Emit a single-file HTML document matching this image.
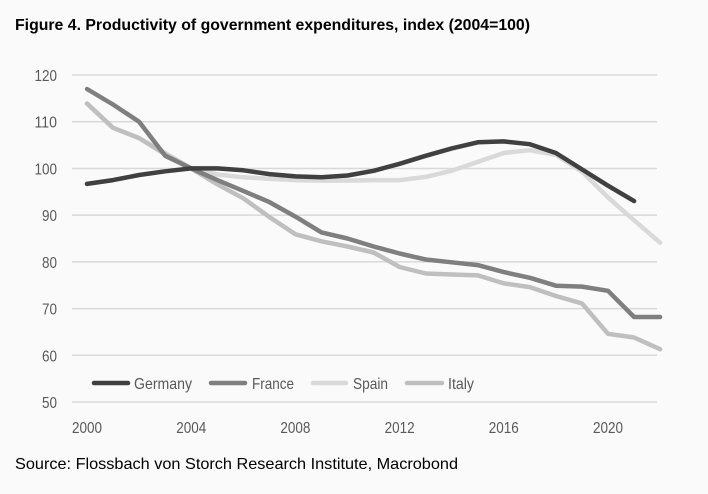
<!DOCTYPE html>
<html><head><meta charset="utf-8"><style>
body{margin:0;background:#fafafa;}
svg{display:block;font-family:"Liberation Sans",Calibri,sans-serif;}
</style></head><body>
<svg id="s" width="708" height="494" xmlns="http://www.w3.org/2000/svg">
<rect width="708" height="494" fill="#fafafa"/>
<text x="15" y="30" font-size="16" font-weight="bold" fill="#000" textLength="515" lengthAdjust="spacingAndGlyphs">Figure 4. Productivity of government expenditures, index (2004=100)</text>
<g id="grid" stroke="#d9d9d9" stroke-width="1.5"></g>
<g id="yl" font-size="16" fill="#595959" text-anchor="end"></g>
<g id="xl" font-size="16" fill="#595959" text-anchor="middle"></g>
<g id="lines" fill="none" stroke-width="4.5" stroke-linejoin="round" stroke-linecap="round"></g>
<g font-size="16" fill="#595959">
<line x1="94" y1="383" x2="128" y2="383" stroke="#404040" stroke-width="4.5" stroke-linecap="round"/><text x="134" y="389" textLength="58" lengthAdjust="spacingAndGlyphs">Germany</text>
<line x1="211" y1="383" x2="245" y2="383" stroke="#7f7f7f" stroke-width="4.5" stroke-linecap="round"/><text x="252" y="389" textLength="42" lengthAdjust="spacingAndGlyphs">France</text>
<line x1="313" y1="383" x2="346" y2="383" stroke="#d9d9d9" stroke-width="4.5" stroke-linecap="round"/><text x="353" y="389" textLength="35" lengthAdjust="spacingAndGlyphs">Spain</text>
<line x1="407" y1="383" x2="442" y2="383" stroke="#bfbfbf" stroke-width="4.5" stroke-linecap="round"/><text x="448" y="389" textLength="26" lengthAdjust="spacingAndGlyphs">Italy</text>
</g>
<text x="15" y="469" font-size="16" fill="#000" textLength="443" lengthAdjust="spacingAndGlyphs">Source: Flossbach von Storch Research Institute, Macrobond</text>
</svg>
<script>
var NS="http://www.w3.org/2000/svg";
function X(y){return 87+(y-2000)*26.05;}
function Y(v){return 402-(v-50)*4.671;}
function el(t,a,p,txt){var e=document.createElementNS(NS,t);for(var k in a)e.setAttribute(k,a[k]);if(txt!=null)e.textContent=txt;document.getElementById(p).appendChild(e);}
for(var v=50;v<=120;v+=10){el('line',{x1:72,x2:657,y1:Y(v),y2:Y(v)},'grid');var s=String(v);el('text',{x:57,y:Y(v)+6,textLength:s.length*7.5,lengthAdjust:'spacingAndGlyphs'},'yl',s);}
for(var y=2000;y<=2020;y+=4){el('text',{x:X(y),y:433,textLength:30,lengthAdjust:'spacingAndGlyphs'},'xl',y);}
var D={
"#404040":[96.7,97.5,98.6,99.4,100,100,99.6,98.8,98.3,98.1,98.5,99.5,101,102.7,104.3,105.6,105.8,105.2,103.3,99.8,96.3,93],
"#d9d9d9":[113.9,108.7,106.5,103.3,100,98.7,98.1,97.8,97.5,97.4,97.4,97.5,97.5,98.2,99.5,101.4,103.3,103.9,102.9,99.3,93.8,88.9,84.1],
"#bfbfbf":[113.9,108.7,106.5,103,100,96.6,93.6,89.6,85.9,84.4,83.3,82,78.9,77.5,77.3,77.1,75.4,74.6,72.7,71.1,64.6,63.8,61.3],
"#7f7f7f":[117,113.7,110,102.7,100,97.5,95.2,92.8,89.7,86.3,85,83.3,81.8,80.5,79.9,79.3,77.8,76.6,74.9,74.7,73.8,68.2,68.2]};
["#d9d9d9","#bfbfbf","#7f7f7f","#404040"].forEach(function(c){var p=D[c].map(function(v,i){return X(2000+i).toFixed(1)+','+Y(v).toFixed(1);}).join(' ');el('polyline',{points:p,stroke:c},'lines');});
</script>
</body></html>
